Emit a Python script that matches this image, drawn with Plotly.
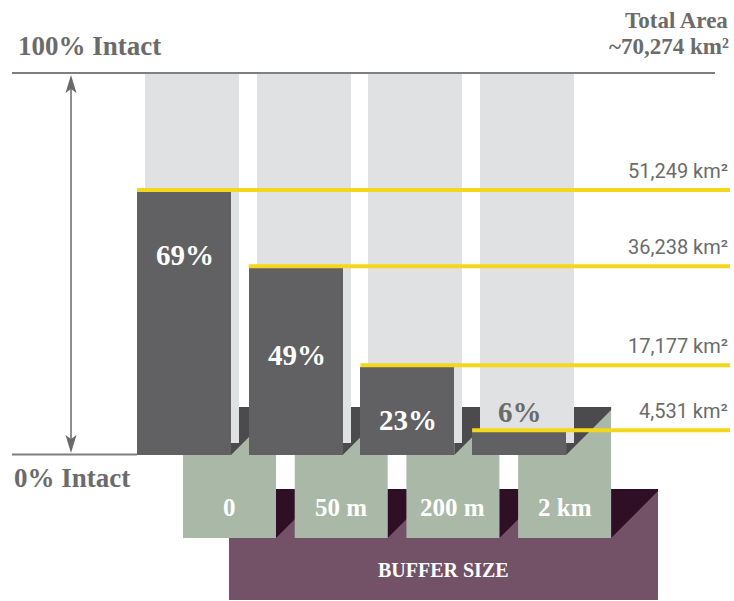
import plotly.graph_objects as go

# ---------------- data ----------------
buffers = ["0", "50 m", "200 m", "2 km"]
intact_pct = [69, 49, 23, 6]
intact_area = ["51,249", "36,238", "17,177", "4,531"]
total_area = "~70,274"

# ---------------- layout constants (pixels) ----------------
W, H = 734, 601
BASE_PX = 455          # 0 % baseline
PX_PER_PCT = 3.81      # 100 % -> y = 74 px


def py(p):
    """pixel row -> percent units on y axis"""
    return (BASE_PX - p) / PX_PER_PCT


def dy(p):
    return p / PX_PER_PCT


X0, STEP, BAR_W = 184, 111.7, 94
centers = [X0 + i * STEP for i in range(len(buffers))]

DARK = "#616163"
SHADOW = "#4b4b4d"
LIGHT = "#e0e1e3"
GREEN = "#a9b8a7"
PURPLE = "#735268"
PURPLE_SH = "#2e0f25"
YELLOW = "#f4d71a"
GREY_TXT = "#6b6b6b"
LINE = "#7f7f7f"
SERIF = "Liberation Serif, DejaVu Serif, serif"
NARROW = "Liberation Sans Narrow, Roboto, sans-serif"

fig = go.Figure()

# background 100 % columns (offset for depth)
fig.add_trace(go.Bar(
    x=[c + 8 for c in centers], y=[100 - dy(12)] * len(centers), base=dy(12),
    width=BAR_W, marker=dict(color=LIGHT, line=dict(width=0)),
    hoverinfo="skip", showlegend=False))
# intact bars
fig.add_trace(go.Bar(
    x=centers, y=intact_pct, base=0, width=BAR_W,
    marker=dict(color=DARK, line=dict(width=0)),
    hoverinfo="skip", showlegend=False))

shapes = []
# purple buffer-size panel
PX0, PX1, PY0, PY1 = 229, 658, 489, 600
shapes.append(dict(type="rect", layer="below", x0=PX0, x1=PX1, y0=py(PY0), y1=py(PY1),
                   fillcolor=PURPLE, line=dict(width=0)))
# green label boxes geometry
G_OFF, G_W, GY0, GY1 = 45.5, 93, 407, 538
for c in centers:
    gx1 = c + G_OFF + G_W / 2
    tri_r = gx1 + 49
    if tri_r > PX1:
        path = (f"M{gx1},{py(PY0)} L{PX1},{py(PY0)} L{PX1},{py(PY0 + tri_r - PX1)} "
                f"L{gx1},{py(GY1)} Z")
    else:
        path = f"M{gx1},{py(PY0)} L{tri_r},{py(PY0)} L{gx1},{py(GY1)} Z"
    shapes.append(dict(type="path", layer="below", path=path,
                       fillcolor=PURPLE_SH, line=dict(width=0)))
for c in centers:
    gx0, gx1 = c + G_OFF - G_W / 2, c + G_OFF + G_W / 2
    shapes.append(dict(type="rect", layer="below", x0=gx0, x1=gx1, y0=py(GY0), y1=py(GY1),
                       fillcolor=GREEN, line=dict(width=0)))
# shadows cast by bars onto green boxes
for c in centers:
    bx1 = c + BAR_W / 2
    gx1 = c + G_OFF + G_W / 2
    tr = bx1 + 48
    if tr > gx1:
        path = (f"M{bx1},{py(GY0)} L{gx1},{py(GY0)} L{gx1},{py(GY0 + tr - gx1)} "
                f"L{bx1},{py(BASE_PX)} Z")
    else:
        path = f"M{bx1},{py(GY0)} L{tr},{py(GY0)} L{bx1},{py(BASE_PX)} Z"
    shapes.append(dict(type="path", layer="below", path=path,
                       fillcolor=SHADOW, line=dict(width=0)))

# reference lines
shapes.append(dict(type="line", layer="above", x0=12, x1=715, y0=100 + dy(1), y1=100 + dy(1),
                   line=dict(color=LINE, width=2)))
shapes.append(dict(type="line", layer="below", x0=12, x1=centers[0] - BAR_W / 2, y0=dy(0.5), y1=dy(0.5),
                   line=dict(color=LINE, width=2)))
# yellow value lines
for c, v in zip(centers, intact_pct):
    shapes.append(dict(type="line", layer="above", x0=c - BAR_W / 2, x1=730,
                       y0=v + dy(2), y1=v + dy(2), line=dict(color=YELLOW, width=4)))

# double-headed vertical arrow (0 % -> 100 %)
AX = 71
ARROW_C = "#6a6a6a"
shapes.append(dict(type="line", layer="above", x0=AX, x1=AX, y0=100 - dy(12), y1=dy(12),
                   line=dict(color=ARROW_C, width=1.5)))
shapes.append(dict(type="path", layer="above",
                   path=(f"M{AX},{100 - dy(1)} L{AX + 5.5},{100 - dy(19)} "
                         f"L{AX},{100 - dy(15)} L{AX - 5.5},{100 - dy(19)} Z"),
                   fillcolor=ARROW_C, line=dict(width=0)))
shapes.append(dict(type="path", layer="above",
                   path=(f"M{AX},{dy(2)} L{AX + 5.5},{dy(20)} "
                         f"L{AX},{dy(16)} L{AX - 5.5},{dy(20)} Z"),
                   fillcolor=ARROW_C, line=dict(width=0)))

annotations = [
    dict(x=16, y=py(46), text="<b>100% Intact</b>", xanchor="left", yanchor="middle",
         showarrow=False, font=dict(family=SERIF, size=27, color=GREY_TXT)),
    dict(x=12, y=py(478), text="<b>0% Intact</b>", xanchor="left", yanchor="middle",
         showarrow=False, font=dict(family=SERIF, size=27, color=GREY_TXT)),
    dict(x=730, y=py(20), text="<b>Total Area</b>", xanchor="right", yanchor="middle",
         showarrow=False, font=dict(family=SERIF, size=23, color=GREY_TXT)),
    dict(x=731, y=py(46), text=f"<b>{total_area} km²</b>", xanchor="right",
         yanchor="middle", showarrow=False, font=dict(family=SERIF, size=23, color=GREY_TXT)),
    dict(x=(PX0 + PX1) / 2, y=py(570), text="<b>BUFFER SIZE</b>", xanchor="center",
         yanchor="middle", showarrow=False, font=dict(family=SERIF, size=20, color="white")),
]
# percent labels inside/above bars
label_pos = [py(255), py(355), py(420), py(412)]
label_col = ["white", "white", "white", GREY_TXT]
for c, v, yp, col in zip(centers, intact_pct, label_pos, label_col):
    annotations.append(dict(x=c + 1, y=yp, text=f"<b>{v}%</b>", showarrow=False,
                            xanchor="center", yanchor="middle",
                            font=dict(family=SERIF, size=29, color=col)))
# area labels
for v, a in zip(intact_pct, intact_area):
    annotations.append(dict(x=730, y=v + dy(2), yshift=19, text=f"{a} km²",
                            showarrow=False, xanchor="right", yanchor="middle",
                            font=dict(family=NARROW, size=20, color=GREY_TXT)))
# buffer labels
for c, b in zip(centers, buffers):
    annotations.append(dict(x=c + G_OFF, y=py(507), text=f"<b>{b}</b>", showarrow=False,
                            xanchor="center", yanchor="middle",
                            font=dict(family=SERIF, size=25, color="white")))

fig.update_layout(
    width=W, height=H, margin=dict(l=0, r=0, t=0, b=0),
    paper_bgcolor="white", plot_bgcolor="white",
    barmode="overlay", bargap=0,
    xaxis=dict(range=[0, W], visible=False, fixedrange=True),
    yaxis=dict(range=[py(H), py(0)], visible=False, fixedrange=True),
    shapes=shapes, annotations=annotations,
)

fig.write_html("out.html")
